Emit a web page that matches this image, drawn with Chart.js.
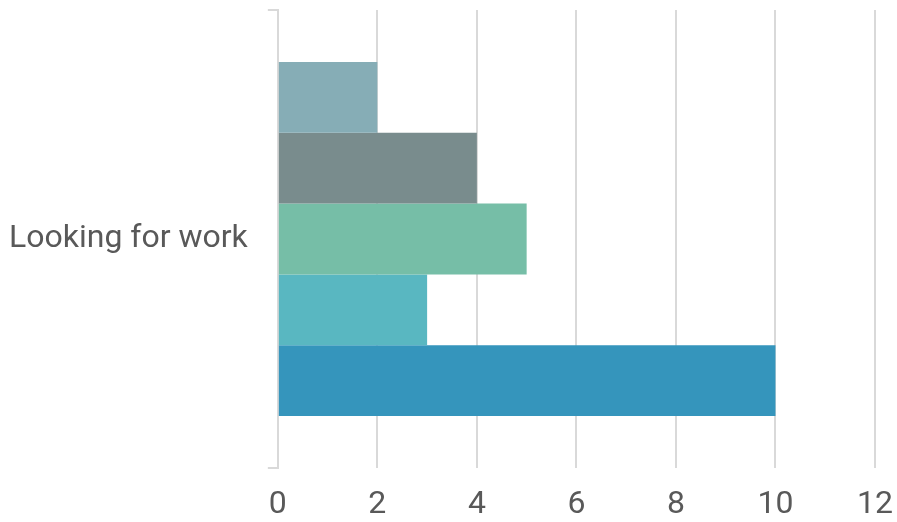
<!DOCTYPE html>
<html><head><meta charset="utf-8">
<script src="https://cdn.jsdelivr.net/npm/chart.js@4/dist/chart.umd.min.js"></script>
<style>html,body{margin:0;padding:0;background:#fff}#wrap{width:897px;height:522px}</style>
</head><body><div id="wrap"><canvas id="c"></canvas></div>
<script>
const categories = ["Looking for work"];
const seriesA = [2];
const seriesB = [4];
const seriesC = [5];
const seriesD = [3];
const seriesE = [10];
const colors = ["#86ADB6", "#798C8D", "#76BEA7", "#59B7C1", "#3595BC"];
const xTicks = [0, 2, 4, 6, 8, 10, 12];

const seriesList = [seriesA, seriesB, seriesC, seriesD, seriesE];
function draw() {
new Chart(document.getElementById('c'), {
  type: 'bar',
  data: {
    labels: categories,
    datasets: seriesList.map((d, i) => ({
      label: 'S' + (i + 1),
      data: d,
      backgroundColor: colors[i],
      borderWidth: 0,
      barPercentage: 1,
      categoryPercentage: 0.773
    }))
  },
  options: {
    indexAxis: 'y',
    responsive: true,
    maintainAspectRatio: false,
    animation: false,
    layout: { padding: { left: 9, top: 10, right: 22, bottom: 0 } },
    plugins: { legend: { display: false }, tooltip: { enabled: false } },
    scales: {
      x: {
        min: xTicks[0], max: xTicks[xTicks.length - 1],
        ticks: { stepSize: 2, color: '#595959', padding: 18, font: { family: 'Roboto', size: 32 } },
        grid: { color: '#d9d9d9', lineWidth: 2, drawTicks: false },
        border: { display: false },
        afterFit: (s) => { s.paddingLeft = 0; s.paddingRight = 0; s.height = 54; }
      },
      y: {
        ticks: { color: '#595959', padding: 20, font: { family: 'Roboto', size: 32 } },
        grid: { drawOnChartArea: false, color: '#d9d9d9', lineWidth: 2, tickLength: 10 },
        border: { display: true, color: '#d9d9d9', width: 2 },
        afterFit: (s) => { s.paddingTop = 0; s.paddingBottom = 0; s.width = s.width - 20; }
      }
    }
  }
});
}
if (document.fonts && document.fonts.load) {
  document.fonts.load('32px Roboto').then(draw, draw);
} else { draw(); }
</script></body></html>
